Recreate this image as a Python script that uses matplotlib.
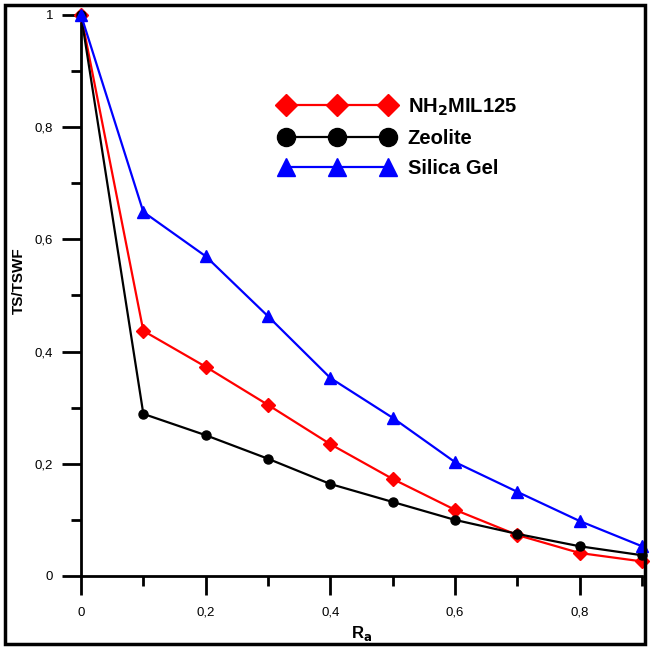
import matplotlib.pyplot as plt
from matplotlib.lines import Line2D
from matplotlib.patches import Rectangle
from matplotlib.ticker import MultipleLocator, FuncFormatter

plt.rcParams['font.family'] = ['Liberation Sans', 'DejaVu Sans']

# Data
ra = [0, 0.1, 0.2, 0.3, 0.4, 0.5, 0.6, 0.7, 0.8, 0.9]
nh2mil125 = [1.0, 0.437, 0.373, 0.305, 0.235, 0.173, 0.118, 0.073, 0.041, 0.026]
zeolite = [1.0, 0.289, 0.251, 0.209, 0.164, 0.132, 0.100, 0.075, 0.053, 0.037]
silica_gel = [1.0, 0.649, 0.570, 0.463, 0.353, 0.282, 0.203, 0.150, 0.098, 0.053]

fig = plt.figure(figsize=(6.5, 6.49), dpi=100)
ax = fig.add_axes([81 / 650, 1 - 576 / 649, 561 / 650, 561 / 649])

ax.plot(ra, nh2mil125, '-', color='#ff0000', marker='D', markersize=7, linewidth=1.6, clip_on=False, zorder=3)
ax.plot(ra, zeolite, '-', color='black', marker='o', markersize=6.5, linewidth=1.6, clip_on=False, zorder=3)
ax.plot(ra, silica_gel, '-', color='#0000ff', marker='^', markersize=9, linewidth=1.6, clip_on=False, zorder=4)

ax.set_xlim(0, 0.9)
ax.set_ylim(0, 1)
for s in ['top', 'right']:
    ax.spines[s].set_visible(False)
for s in ['left', 'bottom']:
    ax.spines[s].set_linewidth(2)

ax.xaxis.set_major_locator(MultipleLocator(0.2))
ax.xaxis.set_minor_locator(MultipleLocator(0.1))
ax.yaxis.set_major_locator(MultipleLocator(0.2))
ax.yaxis.set_minor_locator(MultipleLocator(0.1))
fmt = FuncFormatter(lambda v, p: ('%g' % round(v, 2)).replace('.', ','))
ax.xaxis.set_major_formatter(fmt)
ax.yaxis.set_major_formatter(fmt)
ax.tick_params(which='major', length=14, width=2, labelsize=9.5)
ax.tick_params(axis='x', which='major', pad=8)
ax.tick_params(axis='y', which='major', pad=6)
ax.tick_params(which='minor', length=7, width=2)

ax.set_xlabel('R$_\\mathbf{a}$', fontsize=12, fontweight='bold', labelpad=4)
ax.set_ylabel('TS/TSWF', fontsize=11, fontweight='bold',
              family=['Liberation Sans Narrow', 'Liberation Sans'])
ax.yaxis.set_label_coords(-0.098, 0.526)

handles = [
    Line2D([], [], color='#ff0000', marker='D', markersize=11, linewidth=1.6),
    Line2D([], [], color='black', marker='o', markersize=13, linewidth=1.6),
    Line2D([], [], color='#0000ff', marker='^', markersize=13, linewidth=1.6),
]
labels = ['NH$_\\mathbf{2}$MIL125', 'Zeolite', 'Silica Gel']
leg = ax.legend(handles, labels, loc='upper left', bbox_to_anchor=(0.323, 0.887),
                frameon=False, numpoints=3, handlelength=5.67, handletextpad=0.65,
                labelspacing=0.55, prop={'weight': 'bold', 'size': 14.5})

fig.patches.append(Rectangle((5 / 650, 5 / 649), 640 / 650, 639 / 649, transform=fig.transFigure,
                             fill=False, edgecolor='black', linewidth=2.5))

plt.savefig('out.png', dpi=100)
plt.close()
